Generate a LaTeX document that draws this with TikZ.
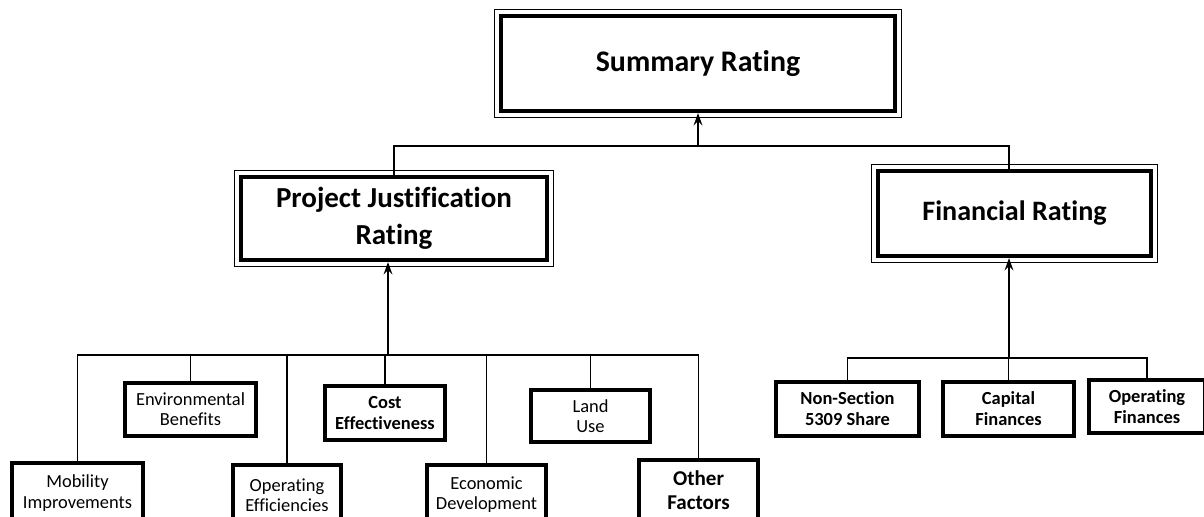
\documentclass[tikz,border=0pt]{standalone}
\usepackage{fontspec}
\setmainfont{Carlito}[Ligatures=NoCommon]
\usetikzlibrary{arrows.meta}

\begin{document}
\begin{tikzpicture}[
    rating/.style={rectangle, draw, line width=2.4pt, align=center},
    factor/.style={rectangle, draw, line width=2pt, align=center, font=\fontsize{10.5}{11.5}\selectfont},
    keyfactor/.style={factor, font=\fontsize{10.5}{12}\selectfont\bfseries},
    link/.style={line width=0.8pt},
    arrow/.style={-{Stealth[length=7pt, width=5pt, inset=2.5pt]}, line width=0.8pt}
]
\useasboundingbox (0,0) rectangle (24.08,10.32);

% Ratings
\node[rating, minimum width=7.88cm, minimum height=1.90cm, font=\fontsize{17}{21}\selectfont\bfseries] (summary) at (13.96,9.05) {Summary Rating};
\node[rating, minimum width=6.12cm, minimum height=1.66cm, font=\fontsize{16.5}{21}\selectfont\bfseries] (justification) at (7.88,5.95) {Project Justification\\Rating};
\node[rating, minimum width=5.46cm, minimum height=1.70cm, font=\fontsize{16}{20}\selectfont\bfseries] (financial) at (20.29,6.05) {Financial Rating};

% Double frame
\foreach \n in {summary, justification, financial}
  \draw[line width=0.6pt] ([shift={(-0.08,0.08)}]\n.north west) rectangle ([shift={(0.08,-0.08)}]\n.south east);

% Project justification criteria
\node[factor, minimum width=2.62cm, minimum height=1.20cm] (mobility) at (1.55,0.46) {Mobility\\Improvements};
\node[factor, minimum width=2.62cm, minimum height=1.06cm] (environment) at (3.81,2.13) {Environmental\\Benefits};
\node[factor, minimum width=2.16cm, minimum height=1.20cm] (operating) at (5.74,0.42) {Operating\\Efficiencies};
\node[keyfactor, minimum width=2.40cm, minimum height=1.08cm] (cost) at (7.70,2.06) {Cost\\Effectiveness};
\node[factor, minimum width=2.38cm, minimum height=1.20cm] (economic) at (9.73,0.42) {Economic\\Development};
\node[factor, minimum width=2.38cm, minimum height=1.04cm] (landuse) at (11.81,2.00) {Land\\Use};
\node[keyfactor, minimum width=2.38cm, minimum height=1.20cm, font=\fontsize{12}{13.5}\selectfont\bfseries] (other) at (13.97,0.52) {Other\\Factors};

% Financial criteria
\node[keyfactor, minimum width=2.86cm, minimum height=1.08cm] (nonsection) at (16.95,2.14) {Non-Section\\5309 Share};
\node[keyfactor, minimum width=2.62cm, minimum height=1.08cm] (capital) at (20.17,2.14) {Capital\\Finances};
\node[keyfactor, minimum width=2.32cm, minimum height=1.06cm] (opfinances) at (22.94,2.19) {Operating\\Finances};

% Connectors
\coordinate (join) at (13.96,7.40);
\coordinate (pjbus) at (7.76,3.22);
\coordinate (finbus) at (20.18,3.16);

\draw[arrow] (join) -- (summary.south);
\draw[link] (justification.north) |- (join) -| (finbus |- financial.north);

\draw[link] (mobility.north) -- (mobility.north |- pjbus) -- (other.north |- pjbus) -- (other.north);
\foreach \n in {environment, operating, cost, economic, landuse}
  \draw[link] (\n.north) -- (\n.north |- pjbus);
\draw[arrow] (pjbus) -- (pjbus |- justification.south);

\draw[link] (nonsection.north) -- (nonsection.north |- finbus) -- (opfinances.north |- finbus) -- (opfinances.north);
\draw[link] (capital.north) -- (capital.north |- finbus);
\draw[arrow] (finbus) -- (finbus |- financial.south);

\end{tikzpicture}
\end{document}
